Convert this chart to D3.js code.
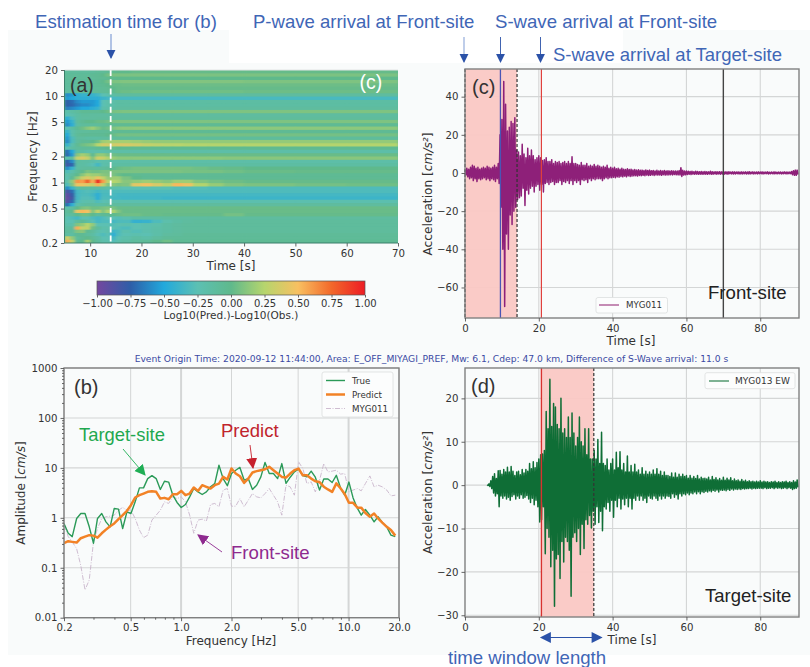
<!DOCTYPE html>
<html><head><meta charset="utf-8">
<script src="https://cdn.jsdelivr.net/npm/d3@7/dist/d3.min.js"></script>
<style>html,body{margin:0;padding:0;background:#fff}svg{display:block}</style></head>
<body><svg id="c" width="810" height="667"></svg>
<script>
// ---- panel (a): spectrogram difference ----
const heatTimes=[5,6,7,8,9,10,11,12,13,14,15,16,18,20,22,24,26,28,30,33,36,40,50,60,70];
const heatFreqs=[20,18.3,16.75,15.33,14.03,12.84,11.75,10.76,9.85,9.01,8.25,7.55,6.91,6.32,5.79,5.3,4.85,4.44,4.06,3.72,3.4,3.11,2.85,2.61,2.39,2.18,2,1.83,1.68,1.53,1.4,1.28,1.18,1.08,.985,.9,.825,.755,.69,.632,.579,.53,.485,.444,.406,.372,.34,.311,.285,.261,.239,.218,.2];
const heatRows=[ // percent of log-ratio, top row first
[-10,-10,-10,-10,-10,-10,-8,-8,-5,-2,0,0,2,2,2,2,2,2,2,2,2,2,2,2],
[-8,-8,-8,-8,-8,-5,-5,0,6,8,8,8,8,8,8,8,8,8,8,8,8,8,8,8],
[-8,-8,-8,-8,-8,-8,-5,-5,-3,-2,0,0,0,0,0,0,0,0,0,0,0,0,0,0],
[-10,-10,-10,-10,-8,-8,-5,0,6,9,9,10,10,10,10,10,10,10,10,10,10,9,9,9],
[-10,-10,-10,-10,-8,-8,-5,-3,0,3,3,4,4,4,4,4,4,4,4,4,4,4,4,4],
[-12,-10,-10,-10,-10,-8,-8,-6,-4,0,2,2,2,2,2,2,2,2,2,2,2,2,2,2],
[-15,-12,-10,-10,-10,-8,-8,-8,-6,-2,3,4,5,5,5,5,5,5,5,5,5,4,4,4],
[-60,-55,-45,-40,-40,-40,-35,-25,-20,-15,-12,-12,-12,-12,-12,-12,-12,-12,-12,-12,-12,-12,-12,-12],
[-55,-50,-45,-45,-45,-45,-45,-38,-35,-33,-33,-33,-33,-33,-33,-33,-33,-33,-33,-33,-33,-33,-33,-33],
[-75,-70,-60,-55,-55,-55,-50,-25,-20,-18,-15,-15,-15,-15,-15,-15,-15,-15,-15,-15,-15,-15,-15,-15],
[-75,-72,-65,-60,-60,-55,-50,-25,-20,-18,-15,-15,-15,-15,-15,-15,-15,-15,-15,-15,-15,-15,-15,-15],
[-65,-60,-55,-50,-50,-45,-40,-20,-18,-15,-12,-12,-12,-12,-12,-12,-12,-12,-12,-12,-12,-12,-12,-12],
[-20,-15,-10,-5,-5,-5,-5,0,4,7,8,9,9,9,9,9,9,9,9,9,9,9,9,9],
[-25,-20,-15,-10,-10,-12,-12,-12,-12,-12,-12,-12,-12,-12,-12,-12,-12,-12,-12,-12,-12,-12,-12,-12],
[-45,-30,-15,-12,-12,-12,-10,-10,-10,-10,-10,-10,-10,-10,-10,-10,-10,-10,-10,-10,-10,-10,-10,-10],
[-55,-40,-10,-5,0,0,3,3,6,8,9,9,9,9,9,9,9,9,9,9,9,9,9,9],
[-60,-45,-15,-10,-10,-10,-10,-8,-8,-5,-5,-5,-5,-5,-5,-5,-5,-5,-5,-5,-5,-5,-5,-5],
[-25,-15,-5,5,12,18,10,3,6,9,12,13,13,13,13,13,13,13,13,13,13,13,13,13],
[-40,-20,-10,-10,-10,-8,-8,-8,-6,-6,-5,-5,-5,-5,-5,-5,-5,-5,-5,-5,-5,-5,-5,-5],
[-50,-20,-8,-5,-5,-5,-5,-5,0,3,6,6,6,6,6,6,6,6,6,6,6,6,6,6],
[-55,-30,-12,-12,-15,-15,-15,-12,-12,-10,-10,-10,-10,-10,-10,-10,-10,-10,-10,-10,-10,-10,-10,-10],
[-60,-30,-10,-5,-5,0,5,18,20,20,20,20,18,16,15,15,15,15,15,15,15,15,15,15],
[-40,-20,-5,5,8,12,25,36,35,35,37,38,34,30,28,26,26,24,24,24,24,24,24,24],
[-25,-15,-10,-8,-8,-8,-5,-5,0,2,0,-2,-3,-3,-3,-3,-3,-3,-3,-3,-3,-3,-3,-3],
[-70,-50,-15,-15,-20,-20,-20,-20,-18,-18,-18,-18,-18,-18,-18,-18,-18,-18,-18,-18,-18,-18,-18,-18],
[-72,-55,12,20,15,-5,15,15,8,5,3,3,3,3,3,3,3,3,3,3,3,3,3,3],
[-20,-12,32,38,30,10,35,32,22,16,13,13,13,13,13,13,13,13,13,13,12,12,12,12],
[-75,-60,-12,-15,-15,-18,-22,-20,-20,-18,-18,-18,-18,-18,-18,-18,-18,-18,-18,-18,-18,-18,-18,-18],
[-80,-72,-15,-15,-18,-25,-35,-20,-18,-15,-15,-15,-15,-15,-15,-15,-15,-15,-15,-15,-15,-15,-15,-15],
[-60,-40,-15,-12,-10,-10,-10,-10,-8,-5,3,5,7,7,7,7,7,7,5,3,2,0,0,0],
[-30,-20,-8,0,8,5,5,8,8,8,8,8,8,8,8,8,8,7,7,7,5,3,2,2],
[-20,-12,0,12,22,18,18,12,10,8,3,0,-3,-5,-5,-5,-5,-5,-5,-5,-5,-5,-5,-5],
[-25,-5,15,32,40,30,45,30,15,18,18,8,0,-5,-5,-5,-5,-5,-5,-5,-5,-5,-5,-5],
[-20,15,62,60,78,55,98,60,25,25,22,12,15,18,15,12,18,18,10,6,4,2,2,2],
[-30,10,45,45,40,30,55,30,10,12,8,10,42,48,38,28,52,46,24,16,10,8,6,5],
[-60,-40,-15,-10,-12,-12,-15,-15,-18,-20,-22,-25,-25,-25,-25,-25,-28,-28,-28,-30,-30,-30,-30,-30],
[-85,-70,-35,-30,-28,-30,-35,-30,-30,-30,-30,-30,-30,-30,-30,-30,-30,-30,-30,-30,-30,-30,-30,-30],
[-92,-78,-35,-30,-30,-35,-45,-32,-32,-32,-35,-35,-35,-35,-35,-35,-35,-35,-35,-35,-35,-35,-35,-35],
[-95,-82,-35,-28,-28,-30,-45,-30,-30,-35,-35,-36,-36,-36,-36,-38,-38,-38,-38,-38,-38,-38,-38,-38],
[-90,-72,-30,-22,-20,-20,-30,-25,-22,-22,-22,-22,-22,-22,-22,-22,-22,-22,-22,-22,-22,-22,-22,-22],
[-70,-45,-20,-15,-12,-12,-15,-15,-12,-12,-12,-12,-12,-12,-12,-12,-12,-12,-12,-12,-12,-12,-12,-12],
[-20,-15,0,8,10,5,5,8,10,8,3,3,3,3,3,3,3,3,3,3,3,3,3,3],
[-10,0,42,52,48,10,30,10,22,22,10,3,3,3,3,3,3,3,3,3,3,3,3,3],
[-15,-10,0,5,5,0,-10,-5,-5,-2,3,5,5,3,3,2,2,2,2,2,6,2,2,2],
[-25,-30,-35,-25,-25,-30,-35,-30,-25,-25,-28,-22,-15,-15,-15,-12,-12,-12,-12,-12,-12,-12,-12,-12],
[-25,-25,-10,-5,-15,-25,-35,-30,-30,-35,-30,-30,-42,-40,-30,-20,-15,-12,-10,-10,-10,-10,-10,-10],
[-20,-20,10,15,25,15,-25,-25,-25,-28,-25,-22,-25,-22,-20,-15,-12,-10,-10,-10,-10,-10,-10,-10],
[-15,-10,55,30,28,5,-10,-20,-20,-25,-28,-30,-25,-22,-18,-15,-12,-10,-10,-10,-10,-10,-10,-10],
[-10,-10,10,12,-5,-10,-20,-25,-20,-38,-32,-22,-28,-22,-18,-15,-12,-10,-10,-10,-10,-10,-10,-10],
[-15,-15,-5,-5,-10,-15,-25,-30,-25,-45,-30,-25,-22,-25,-18,-12,-10,-8,-8,-8,-8,-8,-8,-8],
[35,15,-10,-5,0,-8,-15,-25,-25,-35,-25,-20,-15,-18,-12,-8,-8,-8,-8,-8,-8,-8,-8,-8],
[55,30,-5,0,20,0,-10,-20,-20,-28,-20,-15,-10,-8,0,5,-5,-5,-5,-5,-5,-5,-5,-5]
];
const heatFreqTicks=[20,10,5,2,1,.5,.2];
const heatTimeTicks=[10,20,30,40,50,60,70];
const barDomain=[-1,-.75,-.5,-.25,0,.25,.5,.75,1];
const barColors=["#74479f","#2e5ea8","#22a9dc","#5cc0b3","#5fb98c","#b6d56d","#f8c061","#f2682a","#ed1c24"];
const barTicks=[-1,-.75,-.5,-.25,0,.25,.5,.75,1];

// ---- panel (b): Fourier spectra ----
const specFreq=[.2,.212,.224,.238,.252,.267,.283,.3,.317,.336,.356,.377,.399,.423,.448,.475,.502,.532,.564,.597,.632,.67,.71,.752,.796,.843,.893,.946,1.002,1.062,1.125,1.191,1.262,1.337,1.416,1.5,1.589,1.683,1.783,1.889,2,2.119,2.245,2.378,2.518,2.668,2.826,2.994,3.171,3.36,3.559,3.77,3.994,4.231,4.482,4.748,5.03,5.33,5.64,5.98,6.33,6.71,7.11,7.53,7.98,8.45,8.95,9.48,10.05,10.64,11.3,11.9,12.6,13.4,14.2,15,15.9,16.9,17.9,19];
const specTrue=[.77,.49,.42,.97,1.22,1.22,.66,.31,.97,1.22,.83,.66,1.54,1.49,.61,1.32,1.22,2.09,3.98,3.98,6.1,7,6.1,3.7,5.4,5.2,2.84,2.03,1.61,1.85,2.63,3.86,3.3,2.93,3.3,4.2,4.85,11.3,6.1,4.4,7.7,8.98,10.2,5.7,6.1,3.7,4.5,6.6,12.8,7.7,7.7,6.1,12.2,4.9,6.5,8.3,9.5,7,6.6,8.6,6.5,3.6,6,6,5.1,7.1,4,2.84,5.2,2.5,1.54,1.13,1.47,1.13,.83,1.05,.8,.66,.45,.42];
const specPred=[.31,.34,.33,.32,.39,.42,.45,.44,.4,.49,.58,.68,.77,.94,1.13,1.38,1.79,2.55,2.84,3.06,3.31,3.41,3.31,2.43,2.51,2.36,2.97,2.97,3.46,2.84,3.06,4.05,3.46,4.5,4.17,3.86,4.5,4.85,6.6,5.85,9.7,7.7,6.8,5,6.1,8.1,8.6,9,9.4,10.5,9,7.7,6.6,6.4,7.7,9,9.7,7.1,7.1,6.1,5.4,5.2,4.2,3.7,3.3,4.9,3.9,3,2,2,1.6,1.6,1.25,1.05,1.22,.97,.8,.66,.57,.44];
const specFront=[.71,.42,.33,.24,.11,.036,.057,.33,.61,.97,1.05,1.08,1.13,1.42,1.61,1.42,1.42,.97,.57,.4,.45,.9,1.13,1.42,2.09,1.94,2.63,2.43,2.63,2.09,1.13,.49,.9,.94,.86,1.85,1.94,1.66,3.6,3.86,1.71,1.71,2.43,1.66,2.25,3.06,2.63,2.51,3.06,3.86,2.84,2.09,1.13,4.5,4.17,2.84,13.2,9.7,4.85,5.25,3.31,5.66,12.2,8.3,8.6,8.98,7.5,7.7,3.3,3.6,3.86,3.47,4.85,6.9,4.17,4.5,4.17,3.6,2.75,2.84];
const specXTicks=[.2,.5,1,2,5,10,20];
const specXMinor=[.3,.4,.6,.7,.8,.9,3,4,6,7,8,9];
const specYTicks=[.01,.1,1,10,100,1000];
const specYLabels=["0.01","0.1","1","10","100","1000"];
const specYMinor=[.02,.03,.04,.05,.06,.07,.08,.09,.2,.3,.4,.5,.6,.7,.8,.9,2,3,4,5,6,7,8,9,20,30,40,50,60,70,80,90,200,300,400,500,600,700,800,900];

// ---- panels (c),(d): acceleration waveforms as peak pairs per half second ----
const sampleStep=.5;
const frontStart=0;
const frontUp=[1.5,2.5,2,3,4,3.5,2.5,3,2,2.5,3,2.5,3.5,3,2.5,3,4,3,5,20,28,48,36,22,24,27,26,29,12,11,9,15,10,8,13,9,12,9,7,8,9,8,6.5,7,8,6,6,7,5,6,5.5,6,5,5.5,6,5,6,5,8.5,5,5,4.5,4,5.5,4,4,5,3.5,4,3.5,4.5,3.5,4,3.5,3,3.5,3,4,2.5,3,2.5,3,2.2,2.5,2,2.5,2,1.8,2.2,1.8,2,1.6,1.8,1.5,1.7,1.4,1.5,1.3,1.6,1.3,1.5,1.2,1.3,1.1,1.4,1.1,1.3,1,1.3,1.1,1.2,1,1.2,1,1.1,1,1.2,2.8,1.4,1,1,.9,.8,.9,.7,.9,.8,.7,.8,.7,.8,.7,.6,.9,.7,.6,.7,.6,.7,.6,.8,.6,.6,.7,.5,.6,.6,.5,.6,.5,.6,.5,.6,.5,.7,.5,.6,.5,.5,.6,.5,.6,.5,.5,.6,.4,.5,.5,.6,.4,.5,.5,.4,.6,.5,.5,.5,.8,1.2,1.5,1.5];
const frontLow=[-1,-2,-3,-2.5,-4,-3,-4.5,-3,-3.5,-3,-2.5,-3.5,-3,-4,-3,-3.5,-4.5,-3,-5.5,-18,-40,-70,-32,-40,-22,-27,-20,-18,-14,-13,-12,-8,-17,-9,-11,-8,-7,-10,-7,-6,-9,-6,-10,-5.5,-5,-6,-5,-4.5,-6,-5,-5,-4,-6,-4.5,-5,-4,-5.5,-4,-6,-4,-5,-4,-6,-3.5,-4,-3.5,-5,-3,-4,-3,-3.5,-3,-3,-3,-4,-3,-2.5,-3,-2.5,-2.5,-2.2,-2.5,-2,-2.2,-1.8,-2,-1.6,-2,-1.5,-1.8,-1.6,-1.5,-1.4,-1.6,-1.3,-1.4,-1.2,-1.4,-1.1,-1.3,-1.2,-1,-1.3,-1,-1.1,-1,-1.2,-.9,-1.1,-1,-1,-.9,-1,-.8,-.9,-1,-1,-1.8,-1.1,-.9,-.8,-.7,-.8,-.6,-.7,-.6,-.7,-.6,-.7,-.6,-.6,-.7,-.5,-.7,-.6,-.5,-.6,-.5,-.6,-.5,-.6,-.5,-.6,-.4,-.5,-.5,-.5,-.4,-.5,-.5,-.5,-.4,-.5,-.5,-.5,-.4,-.5,-.4,-.5,-.4,-.4,-.5,-.4,-.4,-.5,-.4,-.4,-.5,-.4,-.4,-.4,-.5,-.4,-.4,-.5,-.4,-.4,-.9,-1.2,-1.2,-.8];
const targetStart=6;
const targetUp=[.1,.3,1,2,2.6,1.5,3.3,3.4,2.5,3.6,3,4.1,3,4.3,3.2,2.2,3,3.2,2.4,3.6,2.8,3.6,3.2,5,3.8,5.4,4,5.2,6,7,7.2,8,17,13,24.4,13.5,18.8,18,14,13,20,12,13,11,15.7,11,16.6,12,9,11,15.7,10,9,13,7,13,6,6,8,6,10.5,5,12.2,5,4.5,6,3.5,5,6,3.5,7.6,4,7.7,3.5,5,3,6.7,3,4.5,3,4.8,3,3.5,2.5,4,2.5,3.2,2.5,3,2.5,3.5,2.5,3.8,2.5,3.2,2.2,3,2.2,2.2,2,2.8,1.8,2.8,1.8,2.5,2,2.5,2,2.2,1.6,2.2,1.6,2,1.5,2.2,1.4,1.8,1.5,1.6,1.4,1.8,1.2,2,1.3,1.7,1.2,1.5,1.1,1.8,1.1,1.6,1.2,1.7,1,1.4,1,1.2,.9,1.3,.9,1.1,.8,1,.8,.9,.7,.9,.7,1,.7,.9,.7,.8,.6,.8,.7,.9,.6,.8,.6,.8,.7,.9,.6,.8,.6,1,.7,1.2];
const targetLow=[-.1,-.3,-.8,-1.8,-2.5,-2,-5,-2.5,-3,-2.5,-3.2,-2.8,-3.5,-2.6,-2.2,-3.2,-2.5,-3,-2.2,-3,-2.8,-2.4,-3.2,-4,-3,-4.5,-3.5,-5,-8.5,-8,-5,-15.8,-10,-12,-18.8,-15,-27.9,-17,-16,-21.5,-13,-17.7,-12,-13,-15,-25.6,-12,-11,-13,-10,-16,-9,-14.6,-8,-9,-7,-9.9,-6,-9,-5,-8.6,-6,-10.5,-5,-5.5,-4,-6,-3.5,-7.4,-3.5,-5,-3,-5.5,-3.2,-4.5,-3,-5,-3,-5.5,-3,-3.5,-2.5,-3.5,-2.5,-3.5,-3,-4,-2.5,-3,-3.2,-2.5,-3,-3.5,-2.5,-3.2,-2.5,-3,-2.5,-2.6,-3,-2,-2.8,-2.2,-3.2,-2,-2.5,-2,-2.2,-1.8,-2.2,-1.8,-2,-1.6,-2,-1.5,-2,-1.5,-1.7,-1.4,-1.6,-1.3,-1.5,-1.2,-1.4,-1.1,-1.6,-1.1,-1.2,-1.1,-1.3,-1,-1.2,-.9,-1.1,-.9,-1,-.9,-1,-.8,-.9,-.8,-.8,-.7,-.9,-.7,-.8,-.7,-.7,-.7,-.8,-.6,-.8,-.7,-.7,-.6,-.8,-.6,-.7,-.6,-.8,-.7,-.6,-.8,-.6,-.7,-1,-.8,-.7,-.5];
const waveXTicks=[0,20,40,60,80];
const frontYTicks=[-60,-40,-20,0,20,40];
const targetYTicks=[-30,-20,-10,0,10,20];
const marks={pFront:9.6,windowFront:14.1,sTarget:20.7,windowTarget:34.9,endFront:70};

const title="Event Origin Time: 2020-09-12 11:44:00, Area: E_OFF_MIYAGI_PREF, Mw: 6.1, Cdep: 47.0 km, Difference of S-Wave arrival: 11.0 s";

const svg=d3.select("#c");
const DJ="'DejaVu Sans',sans-serif", LB="'Liberation Sans',Arial,sans-serif";
const BG="#f9fbfb", BLUE="#3f66b6", DBLUE="#2b52a8";

// paper
[[8,30,221,40],[8,63,802,592],[623,30,187,40]].forEach(r=>svg.append("rect").attr("x",r[0]).attr("y",r[1]).attr("width",r[2]).attr("height",r[3]).attr("fill",BG));

const defs=svg.append("defs");
const f=defs.append("filter").attr("id","soft").attr("x","-5%").attr("y","-5%").attr("width","110%").attr("height","110%");
f.append("feGaussianBlur").attr("stdDeviation","1.4 0.6");
function clip(id,x,y,w,h){defs.append("clipPath").attr("id",id).append("rect").attr("x",x).attr("y",y).attr("width",w).attr("height",h);}

function axisStyle(g,size){
  g.selectAll("text").attr("font-family",DJ).attr("font-size",size||10.2).attr("fill","#333");
  g.selectAll("line").attr("stroke","#555").attr("stroke-width",.9);
  g.select("path.domain").remove();
}
function spine(x0,y0,x1,y1,c){svg.append("rect").attr("x",x0).attr("y",y0).attr("width",x1-x0).attr("height",y1-y0).attr("fill","none").attr("stroke",c||"#808080").attr("stroke-width",1.4);}
function label(txt,x,y,o={}){
  const t=svg.append("text").attr("x",x).attr("y",y).attr("text-anchor",o.anchor||"middle").attr("font-family",o.font||DJ).attr("font-size",o.size||12).attr("fill",o.fill||"#333").text(txt);
  if(o.rot)t.attr("transform",`rotate(${o.rot} ${x} ${y})`);
  return t;
}
function arrowHead(id,color,w,h){
  defs.append("marker").attr("id",id).attr("viewBox","0 0 10 10").attr("refX",9).attr("refY",5).attr("markerUnits","userSpaceOnUse").attr("markerWidth",w).attr("markerHeight",h).attr("orient","auto-start-reverse").append("path").attr("d","M0,0L10,5L0,10Z").attr("fill",color);
}
function arrow(x0,y0,x1,y1,stroke,head,w,both){
  const l=svg.append("line").attr("x1",x0).attr("y1",y0).attr("x2",x1).attr("y2",y1).attr("stroke",stroke).attr("stroke-width",w||1.1).attr("marker-end",`url(#${head})`);
  if(both)l.attr("marker-start",`url(#${head})`);
}
arrowHead("hb",DBLUE,9,11);arrowHead("hg","#1fae55",11,12);arrowHead("hr","#c6202c",11,12);arrowHead("hp","#8e2a8f",11,12);arrowHead("hb2",DBLUE,12,11);

// ===== panel a =====
const aB={l:64.5,r:398,t:70,b:243};
const ax=d3.scaleLinear().domain([5,70]).range([aB.l,aB.r]);
const ay=d3.scaleLog().domain([.2,20]).range([aB.b,aB.t]);
const col=d3.scaleLinear().domain(barDomain).range(barColors).clamp(true);
clip("clipA",aB.l,aB.t,aB.r-aB.l,aB.b-aB.t);
const ag=svg.append("g").attr("clip-path","url(#clipA)");
ag.append("rect").attr("x",aB.l).attr("y",aB.t).attr("width",aB.r-aB.l).attr("height",aB.b-aB.t).attr("fill",col(-.05));
const ah=ag.append("g").attr("filter","url(#soft)");
heatRows.forEach((row,r)=>row.forEach((v,c)=>{
  const x0=ax(heatTimes[c]),x1=ax(heatTimes[c+1]),y0=ay(heatFreqs[r]),y1=ay(heatFreqs[r+1]);
  ah.append("rect").attr("x",x0).attr("y",y0).attr("width",x1-x0+.6).attr("height",y1-y0+.6).attr("fill",col(v/100));
}));
ag.append("line").attr("x1",ax(14)).attr("x2",ax(14)).attr("y1",aB.t).attr("y2",aB.b).attr("stroke","#fff").attr("stroke-width",1.8).attr("stroke-dasharray","6,3.2");
svg.append("line").attr("x1",aB.l).attr("x2",aB.r).attr("y1",aB.t).attr("y2",aB.t).attr("stroke","#e4e6e6").attr("stroke-width",1.2);
svg.append("g").attr("transform",`translate(0,${aB.b})`).call(d3.axisBottom(ax).tickValues(heatTimeTicks).tickFormat(d3.format("d")).tickSize(3.5).tickPadding(3)).call(axisStyle);
svg.append("g").attr("transform",`translate(${aB.l},0)`).call(d3.axisLeft(ay).tickValues(heatFreqTicks).tickFormat(d=>String(d)).tickSize(3.5).tickPadding(3)).call(axisStyle);
svg.append("line").attr("x1",aB.l).attr("x2",aB.l).attr("y1",aB.t).attr("y2",aB.b).attr("stroke","#3b7f6a").attr("stroke-width",1);
svg.append("line").attr("x1",aB.l).attr("x2",aB.r).attr("y1",aB.b).attr("y2",aB.b).attr("stroke","#3b7f6a").attr("stroke-width",1);
label("Frequency [Hz]",37,156.5,{rot:-90});
label("Time [s]",231,270);
label("(a)",70,92,{anchor:"start",font:LB,size:19.5,fill:"#333"});
label("(c)",359.5,89,{anchor:"start",font:LB,size:19.5,fill:"#fff"});

// colorbar
const bB={l:97,r:365,t:281,b:295};
const bx=d3.scaleLinear().domain([-1,1]).range([bB.l,bB.r]);
const grad=defs.append("linearGradient").attr("id","barGrad");
barDomain.forEach((d,i)=>grad.append("stop").attr("offset",(d+1)/2).attr("stop-color",barColors[i]));
svg.append("rect").attr("x",bB.l).attr("y",bB.t).attr("width",bB.r-bB.l).attr("height",bB.b-bB.t).attr("fill","url(#barGrad)").attr("stroke","#555").attr("stroke-width",.7);
svg.append("g").attr("transform",`translate(0,${bB.b})`).call(d3.axisBottom(bx).tickValues(barTicks).tickFormat(d3.format(".2f")).tickSize(2.5).tickPadding(2)).call(g=>axisStyle(g,10));
label("Log10(Pred.)-Log10(Obs.)",231,319,{size:10.5});

// ===== panel b =====
const sB={l:64,r:399,t:368,b:617.7};
const sx=d3.scaleLog().domain([.2,20]).range([sB.l,sB.r]);
const sy=d3.scaleLog().domain([.01,1000]).range([sB.b,sB.t]);
const sgrid=svg.append("g").attr("stroke","#d4d6d6");
specXTicks.forEach(v=>sgrid.append("line").attr("x1",sx(v)).attr("x2",sx(v)).attr("y1",sB.t).attr("y2",sB.b).attr("stroke-width",v===1||v===10?2:1));
specYTicks.forEach(v=>sgrid.append("line").attr("x1",sB.l).attr("x2",sB.r).attr("y1",sy(v)).attr("y2",sy(v)).attr("stroke-width",1.1));
clip("clipB",sB.l,sB.t,sB.r-sB.l,sB.b-sB.t);
const sline=vals=>d3.line().x((d,i)=>sx(specFreq[i])).y(d=>sy(d))(vals);
const sp=svg.append("g").attr("clip-path","url(#clipB)").attr("fill","none").attr("stroke-linejoin","round");
sp.append("path").attr("d",sline(specFront)).attr("stroke","#c9b6cc").attr("stroke-width",.9).attr("stroke-dasharray","5,1.5,1,1.5");
sp.append("path").attr("d",sline(specTrue)).attr("stroke","#2b9a58").attr("stroke-width",1.4);
sp.append("path").attr("d",sline(specPred)).attr("stroke","#f28226").attr("stroke-width",2.5);
spine(sB.l,sB.t,sB.r,sB.b);
svg.append("g").attr("transform",`translate(0,${sB.b})`).call(d3.axisBottom(sx).tickValues(specXTicks).tickFormat(d3.format(".1f")).tickSize(3.5).tickPadding(3)).call(axisStyle);
svg.append("g").attr("transform",`translate(0,${sB.b})`).call(d3.axisBottom(sx).tickValues(specXMinor).tickFormat("").tickSize(2)).call(axisStyle);
svg.append("g").attr("transform",`translate(${sB.l},0)`).call(d3.axisLeft(sy).tickValues(specYTicks).tickFormat((d,i)=>specYLabels[i]).tickSize(3.5).tickPadding(3)).call(axisStyle);
svg.append("g").attr("transform",`translate(${sB.l},0)`).call(d3.axisLeft(sy).tickValues(specYMinor).tickFormat("").tickSize(2)).call(axisStyle);
const ampT=svg.append("text").attr("transform","translate(25,493) rotate(-90)").attr("text-anchor","middle").attr("font-family",DJ).attr("font-size",12).attr("fill","#333");
ampT.append("tspan").text("Amplitude [");ampT.append("tspan").attr("font-style","italic").text("cm/s");ampT.append("tspan").text("]");
label("Frequency [Hz]",231,645);
label("(b)",74,394,{anchor:"start",font:LB,size:20});
label("Target-site",79,441,{anchor:"start",font:LB,size:18.4,fill:"#1fa84f"});
label("Predict",221,437,{anchor:"start",font:LB,size:18.5,fill:"#c0242c"});
label("Front-site",231,559,{anchor:"start",font:LB,size:18.6,fill:"#8e2a8f"});
arrow(123,449,145,475,"#1fae55","hg",.9);
arrow(250,445,253,468,"#c6202c","hr",.9);
arrow(222,552,198,535,"#8e2a8f","hp",.9);
// legend b
svg.append("rect").attr("x",322).attr("y",372).attr("width",71).attr("height",45).attr("rx",2).attr("fill","#fcfdfd").attr("stroke","#dcdede").attr("stroke-width",.8);
[["True","#2b9a58",1.4,null],["Predict","#f28226",2.5,null],["MYG011","#c9b6cc",.9,"5,1.5,1,1.5"]].forEach((d,i)=>{
  const y=380.5+i*14;
  const l=svg.append("line").attr("x1",326).attr("x2",345).attr("y1",y).attr("y2",y).attr("stroke",d[1]).attr("stroke-width",d[2]);
  if(d[3])l.attr("stroke-dasharray",d[3]);
  label(d[0],352,y+3.2,{anchor:"start",size:8.7});
});

// ===== waveforms =====
function zigzag(start,up,low,x,y){
  const pts=[];
  up.forEach((u,i)=>{const t=start+i*sampleStep;pts.push([t,u]);pts.push([t+sampleStep/2,low[i]]);});
  return d3.line().x(d=>x(d[0])).y(d=>y(d[1]))(pts);
}
function wavePanel(o){
  const x=d3.scaleLinear().domain([0,90.5]).range([o.l,o.r]);
  const y=d3.scaleLinear().domain(o.dom).range([o.b,o.t]);
  const gr=svg.append("g").attr("stroke","#d4d6d6").attr("stroke-width",1.1);
  waveXTicks.slice(1).forEach(v=>gr.append("line").attr("x1",x(v)).attr("x2",x(v)).attr("y1",o.t).attr("y2",o.b));
  o.yt.forEach(v=>gr.append("line").attr("x1",o.l).attr("x2",o.r).attr("y1",y(v)).attr("y2",y(v)));
  svg.append("rect").attr("x",x(o.win[0])).attr("y",o.t).attr("width",x(o.win[1])-x(o.win[0])).attr("height",o.b-o.t).attr("fill","#fac8c4").attr("opacity",.95);
  svg.append("path").attr("d",zigzag(o.start,o.up,o.low,x,y)).attr("fill","none").attr("stroke",o.color).attr("stroke-width",1.5).attr("stroke-linejoin","round");
  o.lines.forEach(l=>{
    const s=svg.append("line").attr("x1",x(l.t)).attr("x2",x(l.t)).attr("y1",o.t).attr("y2",o.b).attr("stroke",l.c).attr("stroke-width",l.w||1.2);
    if(l.d)s.attr("stroke-dasharray",l.d);
  });
  spine(o.l,o.t,o.r,o.b);
  svg.append("g").attr("transform",`translate(0,${o.b})`).call(d3.axisBottom(x).tickValues(waveXTicks).tickFormat(d3.format("d")).tickSize(3.5).tickPadding(3)).call(axisStyle);
  svg.append("g").attr("transform",`translate(${o.l},0)`).call(d3.axisLeft(y).tickValues(o.yt).tickFormat(d3.format("d")).tickSize(3.5).tickPadding(3)).call(axisStyle);
  const yl=svg.append("text").attr("transform",`translate(432,${o.ym}) rotate(-90)`).attr("text-anchor","middle").attr("font-family",DJ).attr("font-size",12.2).attr("fill","#333");
  yl.append("tspan").text("Acceleration [");yl.append("tspan").attr("font-style","italic").text("cm/s²");yl.append("tspan").text("]");
  return {x,y};
}
wavePanel({l:465,r:799,t:69,b:318,dom:[-76,54.5],yt:frontYTicks,win:[0,marks.windowFront],start:frontStart,up:frontUp,low:frontLow,color:"#8e2079",ym:194,
  lines:[{t:0,c:"#333",d:"3,2"},{t:marks.pFront,c:"#4a55b5",w:1.3},{t:marks.windowFront,c:"#333",d:"3,2"},{t:marks.sTarget,c:"#e0403c",w:1.2},{t:marks.endFront,c:"#444",w:1.4}]});
wavePanel({l:465,r:799,t:368,b:617,dom:[-30.4,27],yt:targetYTicks,win:[marks.sTarget,marks.windowTarget],start:targetStart,up:targetUp,low:targetLow,color:"#0f6e36",ym:492.5,
  lines:[{t:marks.sTarget,c:"#d8322f",w:1.4},{t:marks.windowTarget,c:"#333",d:"3,2"}]});
label("Time [s]",631,344.5);
label("Time [s]",632,644);
label("(c)",472,94,{anchor:"start",font:LB,size:20});
label("(d)",471,393,{anchor:"start",font:LB,size:20});
label("Front-site",708,299,{anchor:"start",font:LB,size:18.6,fill:"#222"});
label("Target-site",705,602,{anchor:"start",font:LB,size:18.5,fill:"#222"});
// legends
svg.append("rect").attr("x",596).attr("y",297.5).attr("width",71.5).attr("height",15.5).attr("rx",2).attr("fill","#fcfdfd").attr("stroke","#dcdede").attr("stroke-width",.8);
svg.append("line").attr("x1",599).attr("x2",619).attr("y1",305).attr("y2",305).attr("stroke","#a8508f").attr("stroke-width",1.3);
label("MYG011",626,308.2,{anchor:"start",size:8.7});
svg.append("rect").attr("x",705).attr("y",372.7).attr("width",90).attr("height",16).attr("rx",2).attr("fill","#fcfdfd").attr("stroke","#dcdede").attr("stroke-width",.8);
svg.append("line").attr("x1",709).attr("x2",729).attr("y1",381).attr("y2",381).attr("stroke","#3a8a5a").attr("stroke-width",1.3);
label("MYG013 EW",735,384.2,{anchor:"start",size:9});

// ===== annotations =====
label(title,431.5,361.5,{size:9.2,fill:"#3b4aa3"});
label("Estimation time for (b)",35,27.5,{anchor:"start",font:LB,size:18.6,fill:BLUE});
label("P-wave arrival at Front-site",253,28,{anchor:"start",font:LB,size:18.55,fill:BLUE});
label("S-wave arrival at Front-site",495,28,{anchor:"start",font:LB,size:18.6,fill:BLUE});
label("S-wave arrival at Target-site",553,61,{anchor:"start",font:LB,size:18.5,fill:BLUE});
label("time window length",448,663.5,{anchor:"start",font:LB,size:18.6,fill:BLUE});
arrow(111,34,111,58,"#8aa5d8","hb",1.3);
arrow(464,37,464,62,"#8aa5d8","hb",1.1);
arrow(500.5,37,500.5,62,DBLUE,"hb",.9);
arrow(540.5,37,540.5,62,DBLUE,"hb",.9);
arrow(541,637.5,601.5,637.5,DBLUE,"hb2",1,true);
</script></body></html>
